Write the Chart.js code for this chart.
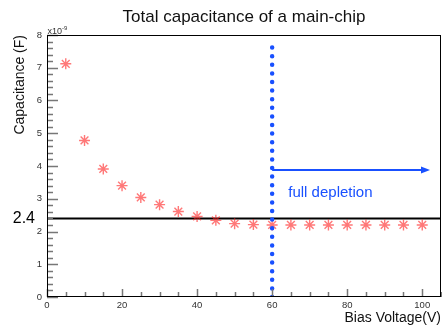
<!DOCTYPE html>
<html>
<head>
<meta charset="utf-8">
<script src="https://cdn.jsdelivr.net/npm/chart.js@4/dist/chart.umd.min.js"></script>
<style>
  html, body { margin: 0; padding: 0; background: #fff; }
  #wrap { width: 442px; height: 327px; }
</style>
</head>
<body>
<div id="wrap"><canvas id="capChart"></canvas></div>
<script>
// bias voltage (V) and measured capacitance (x1e-9 F)
const biasVoltage = [5, 10, 15, 20, 25, 30, 35, 40, 45, 50, 55, 60, 65, 70, 75, 80, 85, 90, 95, 100];
const capacitance = [7.12, 4.78, 3.91, 3.40, 3.04, 2.82, 2.61, 2.46, 2.34, 2.24, 2.21, 2.2, 2.2, 2.2, 2.2, 2.2, 2.2, 2.2, 2.2, 2.2];
const xTicks = [0, 20, 40, 60, 80, 100];
const yTicks = [0, 1, 2, 3, 4, 5, 6, 7, 8];
const plateauLevel = 2.4;      // horizontal reference line
const depletionVoltage = 60;   // vertical dotted line
const arrowY = 3.88;
const arrowEnd = 101;

const blue = 'rgb(25, 80, 255)';

// draws the frame, inner ticks, arrow head and annotation texts
const decorations = {
  id: 'decorations',
  afterDatasetsDraw(chart) {
    const { ctx, chartArea: a, scales: { x, y } } = chart;
    ctx.save();

    // ticks drawn inside the frame
    ctx.strokeStyle = '#777';
    ctx.lineWidth = 1.5;
    for (let v = 0; v <= 8.001; v += 0.2) {
      const py = Math.round(y.getPixelForValue(v)) + 0.5;
      const major = Math.abs(v - Math.round(v)) < 0.01;
      ctx.beginPath();
      ctx.moveTo(a.left, py);
      ctx.lineTo(a.left + (major ? 11 : 6), py);
      ctx.stroke();
    }
    for (let v = 0; v <= 105; v += 5) {
      const px = Math.round(x.getPixelForValue(v)) + 0.5;
      const major = v % 20 === 0;
      ctx.beginPath();
      ctx.moveTo(px, a.bottom);
      ctx.lineTo(px, a.bottom - (major ? 8 : 5));
      ctx.stroke();
    }

    // frame
    ctx.strokeStyle = '#000';
    ctx.lineWidth = 1;
    ctx.strokeRect(a.left + 0.5, a.top + 0.5, a.right - a.left - 1, a.bottom - a.top - 1);

    // arrow head
    const hx = x.getPixelForValue(arrowEnd);
    const hy = y.getPixelForValue(arrowY);
    ctx.fillStyle = blue;
    ctx.beginPath();
    ctx.moveTo(hx + 4, hy);
    ctx.lineTo(hx - 5, hy - 3.5);
    ctx.lineTo(hx - 5, hy + 3.5);
    ctx.closePath();
    ctx.fill();

    // annotation text
    ctx.font = '15px "Liberation Sans", Arial, sans-serif';
    ctx.textBaseline = 'middle';
    ctx.textAlign = 'left';
    ctx.fillText('full depletion', x.getPixelForValue(64.3), y.getPixelForValue(3.18));

    ctx.fillStyle = '#000';
    ctx.font = '16px "Liberation Sans", Arial, sans-serif';
    ctx.textAlign = 'right';
    ctx.fillText('2.4', a.left - 12, y.getPixelForValue(plateauLevel));

    // exponent label
    ctx.fillStyle = '#333';
    ctx.textAlign = 'left';
    ctx.textBaseline = 'alphabetic';
    ctx.font = '9px "Liberation Sans", Arial, sans-serif';
    ctx.fillText('x10', a.left + 0.5, a.top - 1);
    ctx.font = '6px "Liberation Sans", Arial, sans-serif';
    ctx.fillText('-9', a.left + 15, a.top - 5);

    ctx.restore();
  }
};

new Chart(document.getElementById('capChart'), {
  type: 'scatter',
  data: {
    datasets: [
      {
        label: 'capacitance',
        data: biasVoltage.map((v, i) => ({ x: v, y: capacitance[i] })),
        pointStyle: 'star',
        pointRadius: 5.5,
        pointBorderWidth: 1.4,
        borderColor: 'rgba(255, 30, 30, 0.6)',
        backgroundColor: 'rgba(255, 30, 30, 0.6)',
        showLine: false,
        order: 1
      },
      {
        label: 'plateau',
        data: [{ x: 0, y: plateauLevel }, { x: 105, y: plateauLevel }],
        showLine: true,
        borderColor: '#000',
        borderWidth: 2,
        pointRadius: 0,
        order: 2
      },
      {
        label: 'depletion',
        data: [{ x: depletionVoltage, y: 0 }, { x: depletionVoltage, y: 7.85 }],
        showLine: true,
        borderColor: blue,
        borderWidth: 4.5,
        borderDash: [0, 8.6],
        borderCapStyle: 'round',
        pointRadius: 0,
        order: 0
      },
      {
        label: 'arrow',
        data: [{ x: depletionVoltage, y: arrowY }, { x: arrowEnd - 1, y: arrowY }],
        showLine: true,
        borderColor: blue,
        borderWidth: 2,
        pointRadius: 0,
        order: 0
      }
    ]
  },
  options: {
    responsive: true,
    maintainAspectRatio: false,
    animation: false,
    layout: { autoPadding: false, padding: { right: 1, left: 0, top: 0, bottom: 0 } },
    plugins: {
      legend: { display: false },
      tooltip: { enabled: false },
      title: {
        display: true,
        text: 'Total capacitance of a main-chip',
        fullSize: false,
        color: '#111',
        font: { family: '"Liberation Sans", Arial, sans-serif', size: 17, weight: 'normal' },
        padding: { top: 7, bottom: 7.6 }
      }
    },
    scales: {
      x: {
        type: 'linear',
        min: 0,
        max: 105,
        grid: { display: false, drawTicks: false },
        border: { display: false },
        afterBuildTicks: s => { s.ticks = xTicks.map(v => ({ value: v })); },
        afterFit: s => { s.height = 30; s.paddingLeft = 0; s.paddingRight = 0; },
        ticks: {
          padding: 3,
          color: '#333',
          font: { family: '"Liberation Sans", Arial, sans-serif', size: 9.5 }
        },
        title: {
          display: true,
          text: 'Bias Voltage(V)',
          align: 'end',
          color: '#111',
          padding: { top: 5, bottom: 0 },
          font: { family: '"Liberation Sans", Arial, sans-serif', size: 14 }
        }
      },
      y: {
        min: 0,
        max: 8,
        grid: { display: false, drawTicks: false },
        border: { display: false },
        afterBuildTicks: s => { s.ticks = yTicks.map(v => ({ value: v })); },
        afterFit: s => { s.width = 47; s.paddingTop = 0; s.paddingBottom = 0; },
        ticks: {
          padding: 5,
          color: '#333',
          font: { family: '"Liberation Sans", Arial, sans-serif', size: 9.5 }
        },
        title: {
          display: true,
          text: 'Capacitance (F)',
          align: 'end',
          color: '#111',
          padding: { top: 12, bottom: 0 },
          font: { family: '"Liberation Sans", Arial, sans-serif', size: 14 }
        }
      }
    }
  },
  plugins: [decorations]
});
</script>
</body>
</html>
